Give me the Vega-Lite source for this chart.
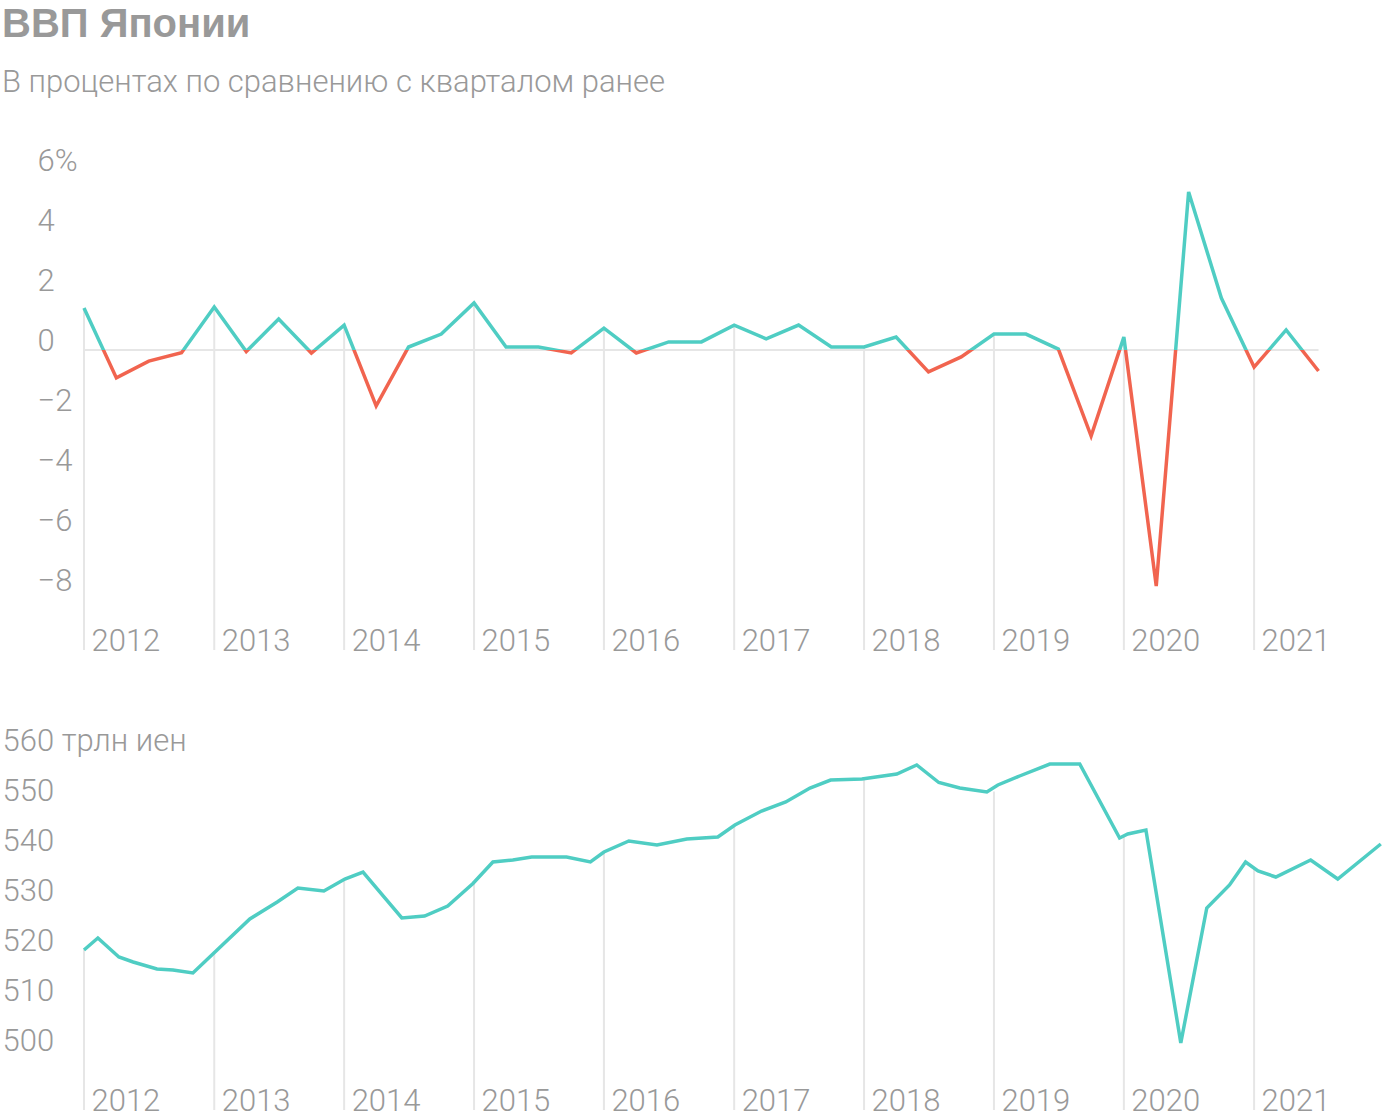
{
  "$schema": "https://vega.github.io/schema/vega-lite/v6.json",
  "background": "white",
  "padding": {"left": 2, "top": 5, "right": 0, "bottom": 10},
  "title": {
    "text": "ВВП Японии",
    "subtitle": "В процентах по сравнению с кварталом ранее",
    "anchor": "start",
    "frame": "bounds",
    "font": "Liberation Sans",
    "fontSize": 40,
    "fontWeight": "bold",
    "color": "#999999",
    "subtitleFont": "Roboto",
    "subtitleFontSize": 31,
    "subtitleFontWeight": 300,
    "subtitleColor": "#999999",
    "subtitlePadding": 22.5,
    "offset": 47.5
  },
  "config": {
    "view": {"stroke": null},
    "font": "Roboto",
    "axis": {
      "labelFont": "Roboto",
      "labelFontSize": 31,
      "labelFontWeight": 300,
      "labelColor": "#999999",
      "labelLimit": 0,
      "grid": false,
      "domain": false,
      "ticks": false,
      "tickSize": 0,
      "title": null,
      "labelOverlap": false,
      "labelFlush": false,
      "labelBound": false
    }
  },
  "datasets": {
    "qoq": [
      {"date": "2012-01-01", "value": 1.4},
      {"date": "2012-04-01", "value": -0.93},
      {"date": "2012-07-01", "value": -0.37},
      {"date": "2012-10-01", "value": -0.09},
      {"date": "2013-01-01", "value": 1.43},
      {"date": "2013-04-01", "value": -0.05},
      {"date": "2013-07-01", "value": 1.03},
      {"date": "2013-10-01", "value": -0.1},
      {"date": "2014-01-01", "value": 0.83},
      {"date": "2014-04-01", "value": -1.86},
      {"date": "2014-07-01", "value": 0.1},
      {"date": "2014-10-01", "value": 0.53},
      {"date": "2015-01-01", "value": 1.57},
      {"date": "2015-04-01", "value": 0.1},
      {"date": "2015-07-01", "value": 0.1},
      {"date": "2015-10-01", "value": -0.1},
      {"date": "2016-01-01", "value": 0.73},
      {"date": "2016-04-01", "value": -0.1},
      {"date": "2016-07-01", "value": 0.27},
      {"date": "2016-10-01", "value": 0.27},
      {"date": "2017-01-01", "value": 0.83},
      {"date": "2017-04-01", "value": 0.37},
      {"date": "2017-07-01", "value": 0.83},
      {"date": "2017-10-01", "value": 0.1},
      {"date": "2018-01-01", "value": 0.1},
      {"date": "2018-04-01", "value": 0.43},
      {"date": "2018-07-01", "value": -0.73},
      {"date": "2018-10-01", "value": -0.23},
      {"date": "2019-01-01", "value": 0.53},
      {"date": "2019-04-01", "value": 0.53},
      {"date": "2019-07-01", "value": 0.03},
      {"date": "2019-10-01", "value": -2.87},
      {"date": "2020-01-01", "value": 0.43},
      {"date": "2020-04-01", "value": -7.87},
      {"date": "2020-07-01", "value": 5.27},
      {"date": "2020-10-01", "value": 1.73},
      {"date": "2021-01-01", "value": -0.57},
      {"date": "2021-04-01", "value": 0.67},
      {"date": "2021-07-01", "value": -0.7}
    ],
    "qoqYears": [
      {"date": "2012-01-01", "value": 1.4},
      {"date": "2013-01-01", "value": 1.43},
      {"date": "2014-01-01", "value": 0.83},
      {"date": "2015-01-01", "value": 1.57},
      {"date": "2016-01-01", "value": 0.73},
      {"date": "2017-01-01", "value": 0.83},
      {"date": "2018-01-01", "value": 0.1},
      {"date": "2019-01-01", "value": 0.53},
      {"date": "2020-01-01", "value": 0.43},
      {"date": "2021-01-01", "value": -0.57}
    ],
    "zero": [
      {"from": "2012-01-01", "to": "2021-07-01", "value": 0}
    ],
    "level": [
      {"date": "2012-01-01", "value": 520.0},
      {"date": "2012-02-09", "value": 522.4},
      {"date": "2012-04-08", "value": 518.6},
      {"date": "2012-05-18", "value": 517.6},
      {"date": "2012-07-24", "value": 516.2},
      {"date": "2012-09-07", "value": 516.0},
      {"date": "2012-11-02", "value": 515.4},
      {"date": "2013-04-11", "value": 526.2},
      {"date": "2013-06-27", "value": 529.6},
      {"date": "2013-08-24", "value": 532.4},
      {"date": "2013-11-05", "value": 531.8},
      {"date": "2014-01-03", "value": 534.2},
      {"date": "2014-02-23", "value": 535.6},
      {"date": "2014-06-12", "value": 526.4},
      {"date": "2014-08-15", "value": 526.8},
      {"date": "2014-10-19", "value": 528.8},
      {"date": "2014-12-29", "value": 533.3},
      {"date": "2015-02-23", "value": 537.6},
      {"date": "2015-04-20", "value": 538.0},
      {"date": "2015-06-12", "value": 538.6},
      {"date": "2015-09-18", "value": 538.6},
      {"date": "2015-11-24", "value": 537.6},
      {"date": "2016-01-01", "value": 539.6},
      {"date": "2016-03-11", "value": 541.8},
      {"date": "2016-05-29", "value": 541.0},
      {"date": "2016-08-21", "value": 542.2},
      {"date": "2016-11-16", "value": 542.6},
      {"date": "2017-01-03", "value": 545.0},
      {"date": "2017-03-19", "value": 547.8},
      {"date": "2017-05-26", "value": 549.6},
      {"date": "2017-08-02", "value": 552.4},
      {"date": "2017-09-29", "value": 554.0},
      {"date": "2017-12-26", "value": 554.2},
      {"date": "2018-04-03", "value": 555.2},
      {"date": "2018-05-29", "value": 557.0},
      {"date": "2018-07-30", "value": 553.5},
      {"date": "2018-09-27", "value": 552.4},
      {"date": "2018-12-12", "value": 551.6},
      {"date": "2019-01-12", "value": 553.0},
      {"date": "2019-03-14", "value": 554.8},
      {"date": "2019-06-07", "value": 557.2},
      {"date": "2019-08-30", "value": 557.2},
      {"date": "2019-12-20", "value": 542.4},
      {"date": "2020-01-12", "value": 543.2},
      {"date": "2020-03-03", "value": 544.0},
      {"date": "2020-06-09", "value": 501.4},
      {"date": "2020-08-21", "value": 528.4},
      {"date": "2020-10-24", "value": 533.0},
      {"date": "2020-12-08", "value": 537.6},
      {"date": "2021-01-12", "value": 535.8},
      {"date": "2021-03-03", "value": 534.6},
      {"date": "2021-06-09", "value": 538.0},
      {"date": "2021-08-24", "value": 534.2},
      {"date": "2021-12-23", "value": 541.2}
    ],
    "levelYears": [
      {"date": "2012-01-01", "value": 520.0},
      {"date": "2013-01-01", "value": 519.7},
      {"date": "2014-01-01", "value": 534.2},
      {"date": "2015-01-01", "value": 533.3},
      {"date": "2016-01-01", "value": 539.6},
      {"date": "2017-01-01", "value": 544.9},
      {"date": "2018-01-01", "value": 554.2},
      {"date": "2019-01-01", "value": 551.7},
      {"date": "2020-01-01", "value": 542.7},
      {"date": "2021-01-01", "value": 536.4}
    ]
  },
  "spacing": 100,
  "bounds": "flush",
  "vconcat": [
    {
      "width": 1300,
      "height": 480,
      "layer": [
        {
          "data": {"name": "qoqYears"},
          "mark": {"type": "rule", "color": "#e6e6e6", "strokeWidth": 2},
          "encoding": {
            "x": {
              "field": "date", "type": "temporal",
              "scale": {"type": "utc", "domain": [{"year": 2012, "month": 1, "date": 1, "utc": true}, {"year": 2022, "month": 1, "date": 1, "utc": true}]},
              "axis": {
                "values": [
                  {"year": 2012, "month": 1, "date": 1, "utc": true},
                  {"year": 2013, "month": 1, "date": 1, "utc": true},
                  {"year": 2014, "month": 1, "date": 1, "utc": true},
                  {"year": 2015, "month": 1, "date": 1, "utc": true},
                  {"year": 2016, "month": 1, "date": 1, "utc": true},
                  {"year": 2017, "month": 1, "date": 1, "utc": true},
                  {"year": 2018, "month": 1, "date": 1, "utc": true},
                  {"year": 2019, "month": 1, "date": 1, "utc": true},
                  {"year": 2020, "month": 1, "date": 1, "utc": true},
                  {"year": 2021, "month": 1, "date": 1, "utc": true}
                ],
                "format": "%Y", "formatType": "utc",
                "labelAlign": "left", "labelBaseline": "alphabetic",
                "labelPadding": 0, "labelOffset": 7
              }
            },
            "y": {
              "field": "value", "type": "quantitative",
              "scale": {"domain": [-10, 6], "nice": false, "zero": false},
              "axis": {
                "values": [-8, -6, -4, -2, 0, 2, 4, 6],
                "labelExpr": "datum.value == 6 ? '6%' : datum.label",
                "labelAlign": "left", "labelBaseline": "alphabetic",
                "labelPadding": 47
              }
            },
            "y2": {"datum": -10}
          }
        },
        {
          "data": {"name": "zero"},
          "mark": {"type": "rule", "color": "#e6e6e6", "strokeWidth": 2},
          "encoding": {
            "x": {"field": "from", "type": "temporal"},
            "x2": {"field": "to"},
            "y": {"field": "value", "type": "quantitative"}
          }
        },
        {
          "data": {"name": "qoq"},
          "mark": {
            "type": "line",
            "strokeWidth": 3.5,
            "stroke": {
              "gradient": "linear",
              "x1": 0, "y1": 0, "x2": 0, "y2": 1,
              "stops": [
                {"offset": 0, "color": "#4fcdc3"},
                {"offset": 0.4011, "color": "#4fcdc3"},
                {"offset": 0.4011, "color": "#f1644f"},
                {"offset": 1, "color": "#f1644f"}
              ]
            }
          },
          "encoding": {
            "x": {"field": "date", "type": "temporal"},
            "y": {"field": "value", "type": "quantitative"}
          }
        }
      ]
    },
    {
      "width": 1300,
      "height": 360,
      "layer": [
        {
          "data": {"name": "levelYears"},
          "mark": {"type": "rule", "color": "#e6e6e6", "strokeWidth": 2},
          "encoding": {
            "x": {
              "field": "date", "type": "temporal",
              "scale": {"type": "utc", "domain": [{"year": 2012, "month": 1, "date": 1, "utc": true}, {"year": 2022, "month": 1, "date": 1, "utc": true}]},
              "axis": {
                "values": [
                  {"year": 2012, "month": 1, "date": 1, "utc": true},
                  {"year": 2013, "month": 1, "date": 1, "utc": true},
                  {"year": 2014, "month": 1, "date": 1, "utc": true},
                  {"year": 2015, "month": 1, "date": 1, "utc": true},
                  {"year": 2016, "month": 1, "date": 1, "utc": true},
                  {"year": 2017, "month": 1, "date": 1, "utc": true},
                  {"year": 2018, "month": 1, "date": 1, "utc": true},
                  {"year": 2019, "month": 1, "date": 1, "utc": true},
                  {"year": 2020, "month": 1, "date": 1, "utc": true},
                  {"year": 2021, "month": 1, "date": 1, "utc": true}
                ],
                "format": "%Y", "formatType": "utc",
                "labelAlign": "left", "labelBaseline": "alphabetic",
                "labelPadding": 0, "labelOffset": 7
              }
            },
            "y": {
              "field": "value", "type": "quantitative",
              "scale": {"domain": [488, 560], "nice": false, "zero": false},
              "axis": {
                "values": [500, 510, 520, 530, 540, 550, 560],
                "labelExpr": "datum.value == 560 ? '560 трлн иен' : datum.label",
                "labelAlign": "left", "labelBaseline": "alphabetic",
                "labelPadding": 82
              }
            },
            "y2": {"datum": 488}
          }
        },
        {
          "data": {"name": "level"},
          "mark": {"type": "line", "strokeWidth": 3.5, "stroke": "#4fcdc3"},
          "encoding": {
            "x": {"field": "date", "type": "temporal"},
            "y": {"field": "value", "type": "quantitative"}
          }
        }
      ]
    }
  ]
}
